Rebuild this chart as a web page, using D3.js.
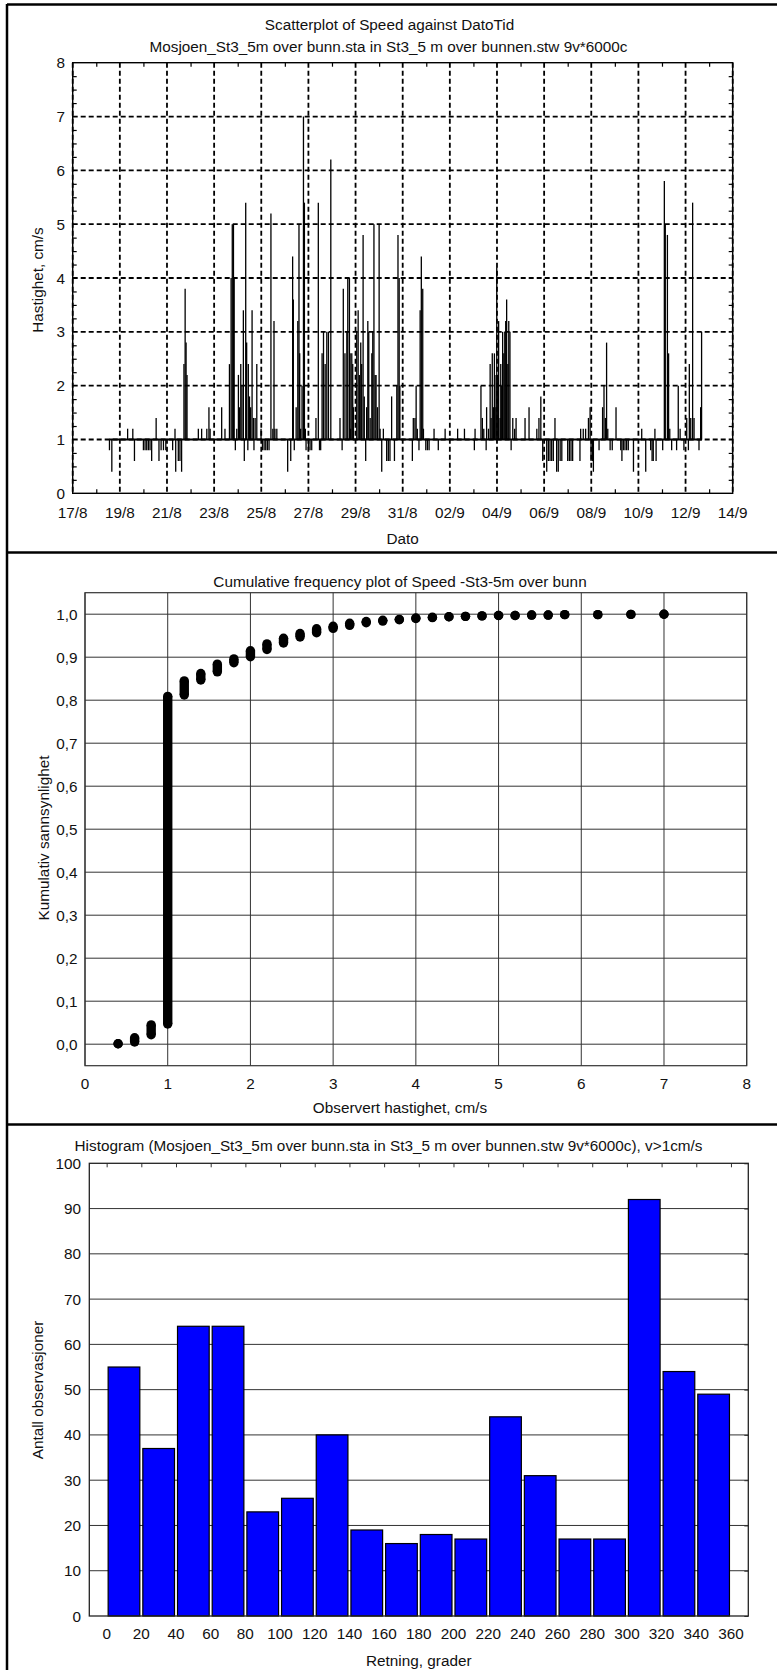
<!DOCTYPE html>
<html>
<head>
<meta charset="utf-8">
<script src="https://cdn.jsdelivr.net/npm/d3@7"></script>
<style>
  body { margin: 0; background: #fff; }
  svg text { font-family: "Liberation Sans", Arial, sans-serif; font-size: 15.3px; fill: #111; }
</style>
</head>
<body>
<svg width="777" height="1670"></svg>
<script>
// ---- Data: speed time series (days after 17/8 00:00, cm/s) ----
var spikeDag = [1.56,1.66,2.33,2.55,2.62,3.00,3.07,3.14,3.21,3.28,3.35,3.54,3.66,3.75,3.85,3.95,4.24,4.34,4.37,4.48,4.55,4.62,4.72,4.77,4.81,4.85,
  5.33,5.47,5.69,5.78,5.83,6.32,6.46,6.65,6.72,6.77,6.82,6.85,6.90,6.96,7.03,7.07,7.13,7.18,7.24,7.28,7.34,7.38,7.43,7.45,7.50,7.55,7.61,7.67,7.69,7.74,7.81,
  7.99,8.05,8.12,8.19,8.26,8.33,8.41,8.49,8.54,8.58,8.66,9.12,9.25,9.33,9.36,9.40,9.48,9.55,9.60,9.63,9.67,9.73,9.79,9.83,9.87,9.90,10.00,10.07,10.14,
  10.32,10.42,10.47,10.52,10.58,10.64,10.71,10.78,10.85,10.95,11.34,11.43,11.48,11.55,11.63,11.67,11.74,11.77,11.79,11.84,11.88,11.91,
  12.05,12.11,12.16,12.22,12.26,12.32,12.37,12.43,12.47,12.52,12.56,12.62,12.69,12.73,12.78,12.83,12.87,12.93,13.00,13.04,13.11,13.18,13.32,13.39,13.46,13.53,13.65,13.75,13.80,13.85,13.88,
  14.41,14.45,14.52,14.57,14.62,14.69,14.74,14.79,14.85,14.88,14.98,15.05,15.12,15.33,15.51,15.80,16.33,16.62,17.04,17.07,
  17.32,17.38,17.44,17.54,17.56,17.64,17.71,17.75,17.80,17.85,17.89,17.92,17.96,17.99,18.03,18.07,18.13,18.16,18.20,18.24,18.29,18.33,18.37,18.41,18.46,18.50,18.55,18.60,18.67,18.75,18.81,
  19.19,19.36,19.69,19.78,19.86,19.94,20.11,20.18,20.25,20.32,20.39,20.46,20.53,20.60,20.68,20.75,21.00,21.07,21.14,21.21,21.52,21.55,21.66,21.76,21.88,21.95,21.99,22.05,22.09,
  22.33,22.48,22.54,22.60,22.65,22.70,22.80,22.89,23.05,23.25,23.30,23.36,23.43,23.50,23.57,23.79,24.14,24.31,24.52,24.58,24.63,24.70,24.75,
  25.03,25.10,25.14,25.23,25.28,25.33,25.41,25.62,25.69,25.77,25.93,26.05,26.12,26.16,26.22,26.30,26.36,26.57,26.64,26.68];
var spikeFart = [0.8,0.4,1.2,1.2,0.6,0.8,0.8,0.8,0.8,0.8,0.6,1.4,0.6,0.8,0.8,0.8,0.8,1.2,0.4,0.6,0.6,0.4,2.4,3.8,2.8,2.2,
  1.2,1.2,1.2,1.6,1.2,1.6,1.2,2.4,4.0,5.0,5.0,4.0,0.8,1.2,2.2,1.6,2.4,2.0,3.4,0.6,5.4,2.8,0.8,2.4,1.8,1.6,3.4,1.4,0.8,1.4,2.4,
  1.2,0.8,0.8,0.8,0.8,0.8,5.2,1.2,3.2,1.2,1.2,0.4,0.6,4.4,3.6,0.8,1.6,3.2,5.0,2.6,1.2,2.0,7.0,5.4,1.2,0.8,0.8,0.8,0.8,
  1.4,5.4,0.8,0.8,2.6,3.0,2.4,3.0,3.0,6.2,1.4,0.8,3.8,2.6,3.0,4.0,4.0,2.6,1.2,2.6,2.4,1.6,
  3.0,3.4,2.2,2.8,2.4,4.8,1.8,0.6,1.6,3.2,3.0,1.4,2.6,3.0,5.0,2.2,2.2,1.6,5.0,1.2,0.4,1.2,0.6,0.6,0.6,1.8,0.6,2.0,4.8,4.0,2.0,
  0.6,1.4,1.4,2.0,1.2,0.8,3.4,4.4,3.8,1.2,0.8,0.8,0.8,1.2,0.8,1.2,1.2,1.2,0.8,1.2,
  2.0,1.4,1.2,0.8,1.6,1.2,2.4,1.4,2.6,1.6,2.6,1.6,2.2,4.2,2.2,3.2,1.4,2.4,2.0,3.0,2.6,3.0,3.2,3.6,2.4,3.2,3.0,0.8,1.4,1.2,1.4,
  1.4,1.6,1.2,1.4,1.8,0.6,0.4,0.6,0.6,0.6,0.6,1.4,0.4,0.4,0.6,0.6,0.6,0.6,0.6,0.6,0.6,1.2,1.2,1.2,1.4,1.6,0.6,0.6,0.4,
  0.8,1.6,2.0,1.4,2.8,1.2,0.8,0.8,1.6,0.8,0.6,0.8,0.8,0.8,0.8,0.4,1.2,0.4,0.8,0.6,0.6,1.2,0.6,
  0.8,5.8,5.0,4.8,2.6,1.2,0.8,0.8,2.0,1.2,0.8,1.4,0.8,2.4,1.4,5.4,1.4,0.8,1.6,3.0];
var startDag = 1.55, sluttDag = 26.70, grunnFart = 1.0;

// ---- Data: cumulative frequency (speed, lowest and highest cumulative probability) ----
var cumFart = [0.4,0.6,0.8,1.0,1.2,1.4,1.6,1.8,2.0,2.2,2.4,2.6,2.8,3.0,3.2,3.4,3.6,3.8,4.0,4.2,4.4,4.6,4.8,5.0,5.2,5.4,5.6,5.8,6.2,6.6,7.0];
var cumLav  = [0.001,0.005,0.022,0.047,0.812,0.847,0.866,0.887,0.901,0.918,0.933,0.947,0.957,0.967,0.974,0.980,0.984,0.987,0.990,0.992,0.994,0.995,0.996,0.997,0.997,0.998,0.998,0.999,0.999,0.9995,1.0];
var cumHoy  = [0.001,0.015,0.045,0.809,0.845,0.862,0.884,0.896,0.915,0.931,0.944,0.955,0.966,0.972,0.979,0.983,0.986,0.988,0.991,0.993,0.994,0.995,0.996,0.997,0.997,0.998,0.998,0.999,0.999,0.9995,1.0];

// ---- Data: histogram of direction (v > 1 cm/s) ----
var retningFra = [0,20,40,60,80,100,120,140,160,180,200,220,240,260,280,300,320,340];
var antall = [55,37,64,64,23,26,40,19,16,18,17,44,31,17,17,92,54,49];

var svg = d3.select("svg");
var komma = d3.formatLocale({decimal: ",", thousands: " ", grouping: [3], currency: ["", ""]});

// outer frame and panel separators
svg.append("line").attr("x1", 7).attr("x2", 777).attr("y1", 4.5).attr("y2", 4.5).attr("stroke", "#000").attr("stroke-width", 2.5);
svg.append("line").attr("x1", 7).attr("x2", 7).attr("y1", 4).attr("y2", 1670).attr("stroke", "#000").attr("stroke-width", 2.5);
[552.5, 1124.5].forEach(function(yy) {
    svg.append("line").attr("x1", 7).attr("x2", 777).attr("y1", yy).attr("y2", yy).attr("stroke", "#000").attr("stroke-width", 2.5);
});

// ================= Panel 1: speed vs time =================
var m1 = {left: 72.7, right: 732.7, top: 62.7, bottom: 493.3};
var base = new Date(2009, 7, 17);
function tilDato(d) { return new Date(base.getTime() + d * 864e5); }

var x1 = d3.scaleTime().domain([tilDato(0), tilDato(28)]).range([m1.left, m1.right]);
var y1 = d3.scaleLinear().domain([0, 8]).range([m1.bottom, m1.top]);
var g1 = svg.append("g");

var hovedDager = d3.range(0, 29, 2).map(tilDato);
var smaDager = d3.range(1, 28, 2).map(tilDato);
var datoFormat = d3.timeFormat("%d/%-m");

// dashed grid
g1.selectAll(".vgrid").data(hovedDager).enter().append("line")
    .attr("x1", d => x1(d)).attr("x2", d => x1(d))
    .attr("y1", m1.top).attr("y2", m1.bottom)
    .attr("stroke", "#000").attr("stroke-width", 1.8).attr("stroke-dasharray", "5,3");
g1.selectAll(".hgrid").data(d3.range(1, 8)).enter().append("line")
    .attr("x1", m1.left).attr("x2", m1.right)
    .attr("y1", d => y1(d)).attr("y2", d => y1(d))
    .attr("stroke", "#000").attr("stroke-width", 1.8).attr("stroke-dasharray", "5,3");

// minor ticks (inward)
var minorY = d3.range(0, 8.01, 0.25).filter(v => v % 1 !== 0);
g1.append("g").attr("transform", "translate(0," + m1.bottom + ")")
    .call(d3.axisBottom(x1).tickValues(smaDager).tickSize(-4).tickFormat(""))
    .call(a => a.select(".domain").remove());
g1.append("g").attr("transform", "translate(0," + m1.top + ")")
    .call(d3.axisTop(x1).tickValues(smaDager).tickSize(-4).tickFormat(""))
    .call(a => a.select(".domain").remove());
g1.append("g").attr("transform", "translate(" + m1.left + ",0)")
    .call(d3.axisLeft(y1).tickValues(minorY).tickSize(-4).tickFormat(""))
    .call(a => a.select(".domain").remove());
g1.append("g").attr("transform", "translate(" + m1.right + ",0)")
    .call(d3.axisRight(y1).tickValues(minorY).tickSize(-4).tickFormat(""))
    .call(a => a.select(".domain").remove());
g1.selectAll(".tick line").attr("stroke", "#000").attr("stroke-width", 1.2);

// data: baseline and spikes
g1.append("line")
    .attr("x1", x1(tilDato(startDag))).attr("x2", x1(tilDato(sluttDag)))
    .attr("y1", y1(grunnFart)).attr("y2", y1(grunnFart))
    .attr("stroke", "#000").attr("stroke-width", 1.8);
g1.selectAll(".spike").data(spikeDag).enter().append("line")
    .attr("x1", d => x1(tilDato(d))).attr("x2", d => x1(tilDato(d)))
    .attr("y1", y1(grunnFart)).attr("y2", (d, i) => y1(spikeFart[i]))
    .attr("stroke", "#000").attr("stroke-width", 1.3);

g1.append("rect").attr("x", m1.left).attr("y", m1.top)
    .attr("width", m1.right - m1.left).attr("height", m1.bottom - m1.top)
    .attr("fill", "none").attr("stroke", "#000").attr("stroke-width", 1.4);

// labels
g1.selectAll(".xl").data(hovedDager).enter().append("text")
    .attr("x", d => x1(d)).attr("y", 512).attr("text-anchor", "middle").attr("dominant-baseline", "central")
    .text(datoFormat);
g1.selectAll(".yl").data(d3.range(0, 9)).enter().append("text")
    .attr("x", 65).attr("y", d => y1(d)).attr("text-anchor", "end").attr("dominant-baseline", "central")
    .text(d => d);
svg.append("text").attr("x", 389.5).attr("y", 24).attr("text-anchor", "middle").attr("dominant-baseline", "central")
    .text("Scatterplot of Speed against DatoTid");
svg.append("text").attr("x", 388.5).attr("y", 46).attr("text-anchor", "middle").attr("dominant-baseline", "central")
    .text("Mosjoen_St3_5m over bunn.sta in St3_5 m over bunnen.stw 9v*6000c");
svg.append("text").attr("x", (m1.left + m1.right) / 2).attr("y", 538).attr("text-anchor", "middle").attr("dominant-baseline", "central")
    .text("Dato");
svg.append("text").attr("transform", "translate(37.5,280) rotate(-90)").attr("text-anchor", "middle").attr("dominant-baseline", "central")
    .text("Hastighet, cm/s");

// ================= Panel 2: cumulative frequency =================
var m2 = {left: 85, right: 746.7, top: 592.7, bottom: 1065.7};
var x2 = d3.scaleLinear().domain([0, 8]).range([m2.left, m2.right]);
var y2 = d3.scaleLinear().domain([-0.05, 1.05]).range([m2.bottom, m2.top]);
var g2 = svg.append("g");
var yTicks2 = d3.range(0, 11).map(v => v / 10);

g2.selectAll(".vg").data(d3.range(0, 9)).enter().append("line")
    .attr("x1", d => x2(d)).attr("x2", d => x2(d)).attr("y1", m2.top).attr("y2", m2.bottom)
    .attr("stroke", "#333").attr("stroke-width", 1);
g2.selectAll(".hg").data(yTicks2).enter().append("line")
    .attr("x1", m2.left).attr("x2", m2.right).attr("y1", d => y2(d)).attr("y2", d => y2(d))
    .attr("stroke", "#333").attr("stroke-width", 1);
g2.append("rect").attr("x", m2.left).attr("y", m2.top)
    .attr("width", m2.right - m2.left).attr("height", m2.bottom - m2.top)
    .attr("fill", "none").attr("stroke", "#333").attr("stroke-width", 1.2);

// points: each speed class is a stack of dots from lowest to highest cumulative value
var r2 = 4.7;
g2.selectAll(".stack").data(cumFart).enter().append("line")
    .attr("x1", d => x2(d)).attr("x2", d => x2(d))
    .attr("y1", (d, i) => y2(cumLav[i])).attr("y2", (d, i) => y2(cumHoy[i]))
    .attr("stroke", "#000").attr("stroke-width", r2 * 2);
g2.selectAll(".lo").data(cumFart).enter().append("circle")
    .attr("cx", d => x2(d)).attr("cy", (d, i) => y2(cumLav[i])).attr("r", r2).attr("fill", "#000");
g2.selectAll(".hi").data(cumFart).enter().append("circle")
    .attr("cx", d => x2(d)).attr("cy", (d, i) => y2(cumHoy[i])).attr("r", r2).attr("fill", "#000");

g2.selectAll(".xl").data(d3.range(0, 9)).enter().append("text")
    .attr("x", d => x2(d)).attr("y", 1083).attr("text-anchor", "middle").attr("dominant-baseline", "central")
    .text(d => d);
g2.selectAll(".yl").data(yTicks2).enter().append("text")
    .attr("x", 77.5).attr("y", d => y2(d)).attr("text-anchor", "end").attr("dominant-baseline", "central")
    .text(d => komma.format(".1f")(d));
svg.append("text").attr("x", 400).attr("y", 581.7).attr("text-anchor", "middle").attr("dominant-baseline", "central")
    .text("Cumulative frequency plot of Speed -St3-5m over bunn");
svg.append("text").attr("x", 400).attr("y", 1107).attr("text-anchor", "middle").attr("dominant-baseline", "central")
    .text("Observert hastighet, cm/s");
svg.append("text").attr("transform", "translate(43,838) rotate(-90)").attr("text-anchor", "middle").attr("dominant-baseline", "central")
    .text("Kumulativ sannsynlighet");

// ================= Panel 3: histogram =================
var m3 = {left: 89.3, right: 748.3, top: 1163.3, bottom: 1616};
var x3 = d3.scaleLinear().domain([-10, 370]).range([m3.left, m3.right]);
var y3 = d3.scaleLinear().domain([0, 100]).range([m3.bottom, m3.top]);
var g3 = svg.append("g");
var xTicks3 = d3.range(0, 361, 20);
var yTicks3 = d3.range(0, 101, 10);

g3.selectAll(".hg").data(yTicks3.slice(1, -1)).enter().append("line")
    .attr("x1", m3.left).attr("x2", m3.right).attr("y1", d => y3(d)).attr("y2", d => y3(d))
    .attr("stroke", "#333").attr("stroke-width", 1);
g3.append("g").attr("transform", "translate(0," + m3.top + ")")
    .call(d3.axisTop(x3).tickValues(xTicks3).tickSize(-4).tickFormat(""))
    .call(a => a.select(".domain").remove());
g3.append("g").attr("transform", "translate(" + m3.right + ",0)")
    .call(d3.axisRight(y3).tickValues(yTicks3).tickSize(-4).tickFormat(""))
    .call(a => a.select(".domain").remove());
g3.selectAll(".tick line").attr("stroke", "#333");

g3.selectAll(".bar").data(retningFra).enter().append("rect")
    .attr("x", d => x3(d) + 1.5)
    .attr("y", (d, i) => y3(antall[i]))
    .attr("width", d => x3(d + 20) - x3(d) - 3)
    .attr("height", (d, i) => y3(0) - y3(antall[i]))
    .attr("fill", "#0000ff").attr("stroke", "#000").attr("stroke-width", 1.2);

g3.append("rect").attr("x", m3.left).attr("y", m3.top)
    .attr("width", m3.right - m3.left).attr("height", m3.bottom - m3.top)
    .attr("fill", "none").attr("stroke", "#222").attr("stroke-width", 1.3);

g3.selectAll(".xl").data(xTicks3).enter().append("text")
    .attr("x", d => x3(d)).attr("y", 1633).attr("text-anchor", "middle").attr("dominant-baseline", "central")
    .text(d => d);
g3.selectAll(".yl").data(yTicks3).enter().append("text")
    .attr("x", 81).attr("y", d => y3(d)).attr("text-anchor", "end").attr("dominant-baseline", "central")
    .text(d => d);
svg.append("text").attr("x", 388.5).attr("y", 1145).attr("text-anchor", "middle").attr("dominant-baseline", "central")
    .text("Histogram (Mosjoen_St3_5m over bunn.sta in St3_5 m over bunnen.stw 9v*6000c), v>1cm/s");
svg.append("text").attr("x", (m3.left + m3.right) / 2).attr("y", 1660).attr("text-anchor", "middle").attr("dominant-baseline", "central")
    .text("Retning, grader");
svg.append("text").attr("transform", "translate(37.7,1390) rotate(-90)").attr("text-anchor", "middle").attr("dominant-baseline", "central")
    .text("Antall observasjoner");
</script>
</body>
</html>
